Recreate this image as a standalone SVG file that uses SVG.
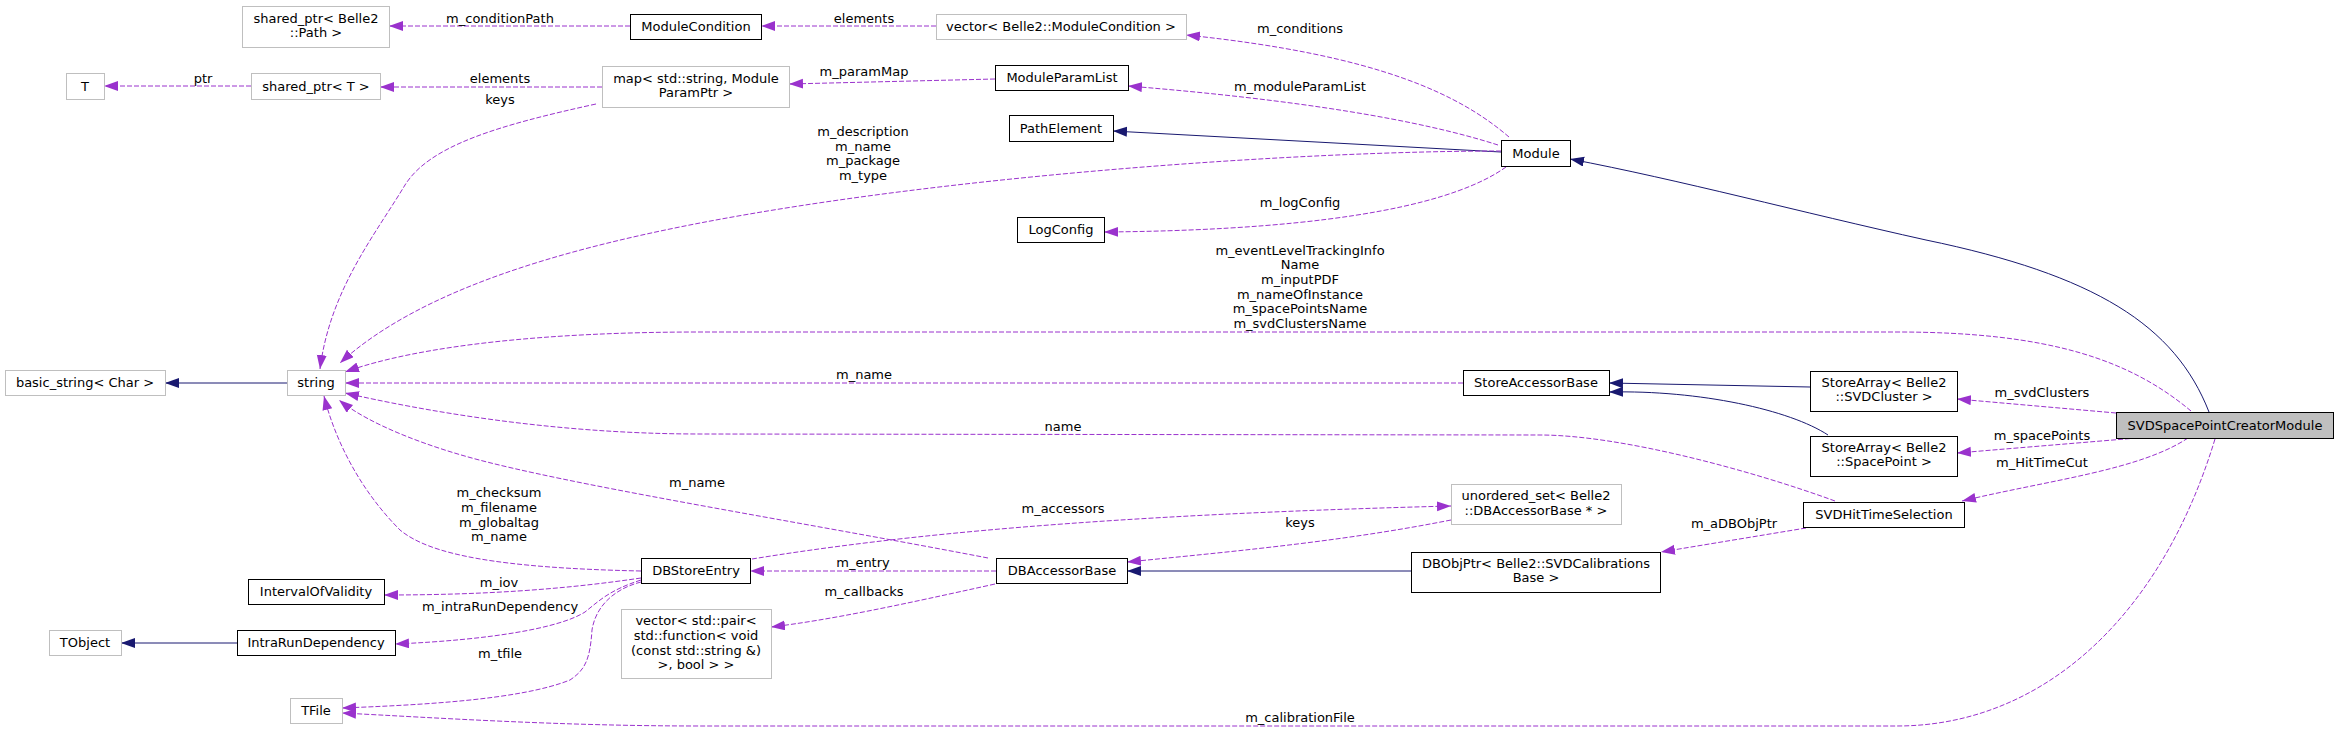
<svg xmlns="http://www.w3.org/2000/svg" width="2339" height="732" viewBox="0 0 2339 732">
<style>
text{font-family:"DejaVu Sans","Liberation Sans",sans-serif;font-size:13px;fill:#000;text-anchor:middle}
.n rect{fill:#fff;stroke:#000;stroke-width:1}
.g rect{fill:#fff;stroke:#bfbfbf;stroke-width:1}
.m rect{fill:#bfbfbf;stroke:#000;stroke-width:1}
.e{fill:none;stroke:#9a32cd;stroke-width:1;stroke-dasharray:5,2}
.i{fill:none;stroke:#191970;stroke-width:1}
</style>
<defs>
<marker id="ap" markerUnits="userSpaceOnUse" markerWidth="15" markerHeight="11" viewBox="0 0 15 11" refX="14" refY="5" orient="auto"><path d="M0,0 L14,5 L0,10 z" fill="#9a32cd"/></marker>
<marker id="ai" markerUnits="userSpaceOnUse" markerWidth="15" markerHeight="11" viewBox="0 0 15 11" refX="14" refY="5" orient="auto"><path d="M0,0 L14,5 L0,10 z" fill="#191970"/></marker>
</defs>
<rect width="2339" height="732" fill="#fff"/>
<g id="edges">
<path class="e" marker-end="url(#ap)" d="M630,26 L389,26"/>
<text x="500" y="23">m_conditionPath</text>
<path class="e" marker-end="url(#ap)" d="M936,26 L761,26"/>
<text x="864" y="23">elements</text>
<path class="e" marker-end="url(#ap)" d="M251,86 L104,86"/>
<text x="203" y="83">ptr</text>
<path class="e" marker-end="url(#ap)" d="M602,87 L380,87"/>
<text x="500" y="83">elements</text>
<path class="e" marker-end="url(#ap)" d="M596,104 C500,125 430,145 405,185 C375,235 330,290 320,369"/>
<text x="500" y="104">keys</text>
<path class="e" marker-end="url(#ap)" d="M995,79 L789,84"/>
<text x="864" y="76">m_paramMap</text>
<path class="e" marker-end="url(#ap)" d="M1509,137 C1460,95 1380,55 1186,35"/>
<text x="1300" y="33">m_conditions</text>
<path class="e" marker-end="url(#ap)" d="M1498,145 C1420,120 1300,100 1128,86"/>
<text x="1300" y="91">m_moduleParamList</text>
<path class="i" marker-end="url(#ai)" d="M1501,152 L1113,131"/>
<path class="e" marker-end="url(#ap)" d="M1501,151 C1300,151 950,175 700,223 C560,250 420,290 340,363"/>
<text x="863" y="136">m_description</text>
<text x="863" y="151">m_name</text>
<text x="863" y="165">m_package</text>
<text x="863" y="180">m_type</text>
<path class="e" marker-end="url(#ap)" d="M1506,167 C1460,200 1350,230 1104,232"/>
<text x="1300" y="207">m_logConfig</text>
<path class="i" marker-end="url(#ai)" d="M2209,412 C2175,325 2095,275 1926,240 C1800,212 1680,180 1570,159"/>
<path class="i" marker-end="url(#ai)" d="M287,383 L165,383"/>
<path class="e" marker-end="url(#ap)" d="M2191,411 C2130,360 2050,332 1897,332 L700,332 C550,332 420,345 345,372"/>
<text x="1300" y="255">m_eventLevelTrackingInfo</text>
<text x="1300" y="269">Name</text>
<text x="1300" y="284">m_inputPDF</text>
<text x="1300" y="299">m_nameOfInstance</text>
<text x="1300" y="313">m_spacePointsName</text>
<text x="1300" y="328">m_svdClustersName</text>
<path class="e" marker-end="url(#ap)" d="M1463,383 L345,383"/>
<text x="864" y="379">m_name</text>
<path class="i" marker-end="url(#ai)" d="M1810,387 L1609,383"/>
<path class="i" marker-end="url(#ai)" d="M1828,435 C1790,410 1700,390 1609,392"/>
<path class="e" marker-end="url(#ap)" d="M2116,413 L1957,399"/>
<text x="2042" y="397">m_svdClusters</text>
<path class="e" marker-end="url(#ap)" d="M2137,438 L1957,453"/>
<text x="2042" y="440">m_spacePoints</text>
<path class="e" marker-end="url(#ap)" d="M2188,438 C2140,470 2050,480 1962,501"/>
<text x="2042" y="467">m_HitTimeCut</text>
<path class="e" marker-end="url(#ap)" d="M1835,501 C1750,470 1620,435 1540,435 L700,434 C550,434 420,410 345,393"/>
<text x="1063" y="431">name</text>
<path class="e" marker-end="url(#ap)" d="M988,558 C800,522 600,490 491,463 C430,448 370,425 339,400"/>
<text x="697" y="487">m_name</text>
<path class="e" marker-end="url(#ap)" d="M641,571 C500,568 430,555 400,530 C360,490 335,440 324,396"/>
<text x="499" y="497">m_checksum</text>
<text x="499" y="512">m_filename</text>
<text x="499" y="527">m_globaltag</text>
<text x="499" y="541">m_name</text>
<path class="e" marker-end="url(#ap)" d="M641,578 C560,590 480,595 384,595"/>
<text x="499" y="587">m_iov</text>
<path class="e" marker-end="url(#ap)" d="M641,580 C610,590 600,600 585,612 C560,628 490,640 395,644"/>
<text x="500" y="611">m_intraRunDependency</text>
<path class="i" marker-end="url(#ai)" d="M237,643 L121,643"/>
<path class="e" marker-end="url(#ap)" d="M641,582 C610,590 595,610 592,630 C590,660 585,670 570,680 C520,700 420,705 342,708"/>
<text x="500" y="658">m_tfile</text>
<path class="e" marker-end="url(#ap)" d="M2215,439 C2160,620 2040,726 1897,726 L700,726 C560,726 440,718 342,713"/>
<text x="1300" y="722">m_calibrationFile</text>
<path class="e" marker-end="url(#ap)" d="M996,571 L750,571"/>
<text x="863" y="567">m_entry</text>
<path class="e" marker-end="url(#ap)" d="M752,559 C900,535 1100,515 1451,506"/>
<text x="1063" y="513">m_accessors</text>
<path class="e" marker-end="url(#ap)" d="M1451,520 C1350,540 1250,550 1127,562"/>
<text x="1300" y="527">keys</text>
<path class="e" marker-end="url(#ap)" d="M995,584 C900,605 830,620 771,627"/>
<text x="864" y="596">m_callbacks</text>
<path class="i" marker-end="url(#ai)" d="M1411,571 L1127,571"/>
<path class="e" marker-end="url(#ap)" d="M1806,528 L1661,552"/>
<text x="1734" y="528">m_aDBObjPtr</text>
</g>
<g id="n_sharedPath" class="g"><rect x="242.5" y="6.5" width="147" height="41"/><text x="316" y="23">shared_ptr&lt; Belle2</text><text x="316" y="37">::Path &gt;</text></g>
<g id="n_ModuleCondition" class="n"><rect x="630.5" y="14.5" width="131" height="25"/><text x="696" y="31">ModuleCondition</text></g>
<g id="n_vectorMC" class="g"><rect x="936.5" y="14.5" width="250" height="25"/><text x="1061" y="31">vector&lt; Belle2::ModuleCondition &gt;</text></g>
<g id="n_T" class="g"><rect x="66.5" y="73.5" width="38" height="26"/><text x="85" y="91">T</text></g>
<g id="n_sharedT" class="g"><rect x="251.5" y="73.5" width="129" height="26"/><text x="316" y="91">shared_ptr&lt; T &gt;</text></g>
<g id="n_map" class="g"><rect x="602.5" y="66.5" width="187" height="41"/><text x="696" y="83">map&lt; std::string, Module</text><text x="696" y="97">ParamPtr &gt;</text></g>
<g id="n_ModuleParamList" class="n"><rect x="995.5" y="65.5" width="133" height="25"/><text x="1062" y="82">ModuleParamList</text></g>
<g id="n_PathElement" class="n"><rect x="1009.5" y="115.5" width="104" height="26"/><text x="1061" y="133">PathElement</text></g>
<g id="n_Module" class="n"><rect x="1501.5" y="140.5" width="69" height="26"/><text x="1536" y="158">Module</text></g>
<g id="n_LogConfig" class="n"><rect x="1017.5" y="217.5" width="87" height="25"/><text x="1061" y="234">LogConfig</text></g>
<g id="n_basic_string" class="g"><rect x="5.5" y="370.5" width="160" height="25"/><text x="85" y="387">basic_string&lt; Char &gt;</text></g>
<g id="n_string" class="g"><rect x="287.5" y="370.5" width="58" height="25"/><text x="316" y="387">string</text></g>
<g id="n_StoreAccessorBase" class="n"><rect x="1463.5" y="370.5" width="146" height="25"/><text x="1536" y="387">StoreAccessorBase</text></g>
<g id="n_StoreArraySVDCluster" class="n"><rect x="1810.5" y="371.5" width="147" height="40"/><text x="1884" y="387">StoreArray&lt; Belle2</text><text x="1884" y="401">::SVDCluster &gt;</text></g>
<g id="n_StoreArraySpacePoint" class="n"><rect x="1810.5" y="436.5" width="147" height="40"/><text x="1884" y="452">StoreArray&lt; Belle2</text><text x="1884" y="466">::SpacePoint &gt;</text></g>
<g id="n_SVDSpacePointCreatorModule" class="m"><rect x="2116.5" y="412.5" width="217" height="26"/><text x="2225" y="430">SVDSpacePointCreatorModule</text></g>
<g id="n_SVDHitTimeSelection" class="n"><rect x="1803.5" y="502.5" width="161" height="25"/><text x="1884" y="519">SVDHitTimeSelection</text></g>
<g id="n_unordered_set" class="g"><rect x="1451.5" y="484.5" width="170" height="40"/><text x="1536" y="500">unordered_set&lt; Belle2</text><text x="1536" y="515">::DBAccessorBase * &gt;</text></g>
<g id="n_DBObjPtr" class="n"><rect x="1411.5" y="552.5" width="249" height="40"/><text x="1536" y="568">DBObjPtr&lt; Belle2::SVDCalibrations</text><text x="1536" y="582">Base &gt;</text></g>
<g id="n_DBStoreEntry" class="n"><rect x="641.5" y="558.5" width="109" height="25"/><text x="696" y="575">DBStoreEntry</text></g>
<g id="n_DBAccessorBase" class="n"><rect x="996.5" y="558.5" width="131" height="25"/><text x="1062" y="575">DBAccessorBase</text></g>
<g id="n_IntervalOfValidity" class="n"><rect x="248.5" y="579.5" width="136" height="25"/><text x="316" y="596">IntervalOfValidity</text></g>
<g id="n_IntraRunDependency" class="n"><rect x="237.5" y="630.5" width="158" height="25"/><text x="316" y="647">IntraRunDependency</text></g>
<g id="n_TObject" class="g"><rect x="49.5" y="630.5" width="72" height="25"/><text x="85" y="647">TObject</text></g>
<g id="n_TFile" class="g"><rect x="290.5" y="698.5" width="52" height="25"/><text x="316" y="715">TFile</text></g>
<g id="n_vectorPair" class="g"><rect x="621.5" y="609.5" width="150" height="69"/><text x="696" y="625">vector&lt; std::pair&lt;</text><text x="696" y="640">std::function&lt; void</text><text x="696" y="655">(const std::string &amp;)</text><text x="696" y="669">&gt;, bool &gt; &gt;</text></g>
</svg>
